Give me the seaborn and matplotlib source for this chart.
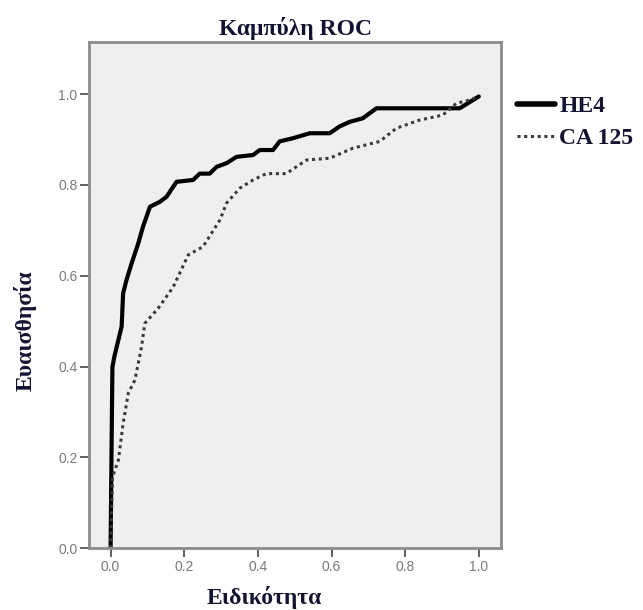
import pandas as pd
import seaborn as sns
import matplotlib.pyplot as plt

# ROC points
he4_x = [0.0, 0.003, 0.005, 0.01, 0.03, 0.034, 0.043, 0.057, 0.075, 0.088, 0.107, 0.134, 0.152,
         0.179, 0.224, 0.242, 0.269, 0.288, 0.315, 0.342, 0.387, 0.405, 0.441, 0.459, 0.495,
         0.541, 0.595, 0.622, 0.649, 0.685, 0.722, 0.948, 0.97, 1.0]
he4_y = [0.0, 0.249, 0.399, 0.421, 0.488, 0.561, 0.590, 0.627, 0.671, 0.708, 0.752, 0.763, 0.774,
         0.807, 0.811, 0.825, 0.825, 0.840, 0.848, 0.862, 0.866, 0.877, 0.877, 0.896, 0.903,
         0.914, 0.914, 0.929, 0.939, 0.947, 0.969, 0.969, 0.98, 0.995]

ca125_x = [0.0, 0.005, 0.021, 0.034, 0.048, 0.066, 0.084, 0.093, 0.129, 0.17, 0.211, 0.251,
           0.297, 0.315, 0.351, 0.387, 0.423, 0.477, 0.532, 0.595, 0.658, 0.731, 0.776, 0.839,
           0.902, 0.939, 0.975, 1.0]
ca125_y = [0.0, 0.156, 0.193, 0.274, 0.341, 0.370, 0.443, 0.495, 0.528, 0.575, 0.646, 0.664,
           0.723, 0.760, 0.793, 0.811, 0.825, 0.825, 0.855, 0.859, 0.881, 0.896, 0.925, 0.943,
           0.954, 0.980, 0.987, 0.995]

ticks = [0.0, 0.2, 0.4, 0.6, 0.8, 1.0]
tick_labels = ['0.0', '0.2', '0.4', '0.6', '0.8', '1.0']

df_he4 = pd.DataFrame({'x': he4_x, 'y': he4_y})
df_ca = pd.DataFrame({'x': ca125_x, 'y': ca125_y})

sns.set_style("ticks")
plt.rcParams['font.family'] = ['Liberation Serif', 'DejaVu Serif']

fig = plt.figure(figsize=(6.43, 6.10), dpi=100)
ax = fig.add_axes([0.139, 0.1016, 0.64, 0.8295])
ax.set_facecolor('#efefef')

sns.lineplot(data=df_he4, x='x', y='y', sort=False, color='black', linewidth=3.0,
             ax=ax, label='HE4')
sns.lineplot(data=df_ca, x='x', y='y', sort=False, color='#3a3a3a', linewidth=2.2,
             linestyle=(0, (1, 1.2)), ax=ax, label='CA 125')

ax.set_xlim(-0.0576, 1.06)
ax.set_ylim(0.0, 1.115)
ax.set_xticks(ticks)
ax.set_yticks(ticks)
ax.set_xticklabels(tick_labels)
ax.set_yticklabels(tick_labels)
ax.tick_params(axis='both', labelsize=10, labelcolor='#7a7a7a', color='#555555',
               length=6.5, width=1.3, direction='out', pad=2)
for lab in ax.get_xticklabels() + ax.get_yticklabels():
    lab.set_fontfamily('Liberation Sans')
for s in ax.spines.values():
    s.set_color('#8c8c8c')
    s.set_linewidth(2.0)

txt_color = '#141432'
ax.set_title('Καμπύλη ROC', fontsize=17, fontweight='bold', color=txt_color, pad=5)
ax.set_xlabel('Ειδικότητα', fontsize=17, fontweight='bold', color=txt_color)
ax.set_ylabel('Ευαισθησία', fontsize=17, fontweight='bold', color=txt_color)
ax.xaxis.set_label_coords(0.425, -0.075)
ax.yaxis.set_label_coords(-0.128, 0.43)

leg = ax.legend(loc='upper left', bbox_to_anchor=(0.804, 0.843),
                bbox_transform=fig.transFigure, frameon=False,
                handlelength=1.6, handletextpad=0.19, labelspacing=0.45,
                borderpad=0, borderaxespad=0,
                prop={'family': 'Liberation Serif', 'weight': 'bold', 'size': 17})
for t in leg.get_texts():
    t.set_color(txt_color)
leg.get_lines()[0].set_linewidth(4)

fig.savefig('out.png', dpi=100, facecolor='white')
